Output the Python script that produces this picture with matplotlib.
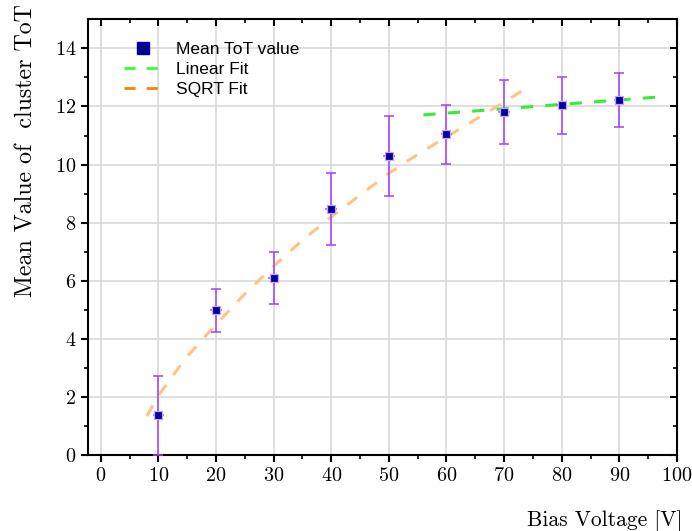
import numpy as np
import matplotlib
matplotlib.use('Agg')
import matplotlib.pyplot as plt
from matplotlib.lines import Line2D

bias = [10, 20, 30, 40, 50, 60, 70, 80, 90]
mean_tot = [1.39, 4.99, 6.11, 8.48, 10.31, 11.05, 11.81, 12.05, 12.24]
err_low = [1.39, 0.75, 0.89, 1.25, 1.38, 1.04, 1.11, 1.0, 0.96]
err_high = [1.34, 0.74, 0.89, 1.23, 1.36, 0.99, 1.09, 0.95, 0.9]
bias_err = [1, 1, 1, 1, 1, 1, 1, 1, 1]

# fit curves
lin_x = [56, 97]
lin_y = [11.71, 12.33]
sqrt_x = [8, 10, 12, 15, 20, 25, 30, 35, 40, 45, 50, 55, 60, 65, 70, 74]
sqrt_y = [1.35, 2.05, 2.6, 3.4, 4.5, 5.55, 6.5, 7.4, 8.2, 8.95, 9.7, 10.35, 10.95, 11.55, 12.15, 12.65]

plt.rcParams['font.family'] = 'cmr10'
plt.rcParams['axes.formatter.use_mathtext'] = True

fig = plt.figure(figsize=(6.92, 5.31), dpi=100)
ax = fig.add_axes([0.1272, 0.1426, 0.9783 - 0.1272, 0.9637 - 0.1426])

ax.grid(True, color='#d6d6d6', linewidth=1.1, zorder=0)
ax.set_axisbelow(True)

ax.plot(sqrt_x, sqrt_y, color='#ffc384', linewidth=2.2, dashes=(4, 4), zorder=2)
ax.plot(lin_x, lin_y, color='#33ee33', linewidth=2.2, dashes=(4, 4), zorder=2)

ax.errorbar(bias, mean_tot, yerr=[err_low, err_high], fmt='none',
            ecolor='#a040ff', elinewidth=1.1, capsize=3.5, capthick=1.1, zorder=3)
ax.errorbar(bias, mean_tot, xerr=bias_err, fmt='none',
            ecolor='#b070ff', elinewidth=1.3, capsize=0, zorder=3)
ax.plot(bias, mean_tot, 's', color='#000099', markersize=6,
        markeredgecolor='#c8a0ff', markeredgewidth=0.9, zorder=4)

ax.set_xlim(-2.2, 100)
ax.set_ylim(0, 15)
ax.set_xticks(np.arange(0, 101, 10))
ax.set_xticks(np.arange(0, 101, 5), minor=True)
ax.set_yticks(np.arange(0, 15, 2))
ax.set_yticks(np.arange(0, 15, 1), minor=True)

for s in ax.spines.values():
    s.set_linewidth(1.5)

ax.tick_params(which='major', direction='out', length=5, width=1.5, labelsize=14.5)
ax.tick_params(which='minor', direction='out', length=3, width=1.2)
ax.tick_params(which='both', top=True, right=True)
# top/right ticks point inwards
for t in ax.xaxis.get_major_ticks() + ax.xaxis.get_minor_ticks():
    t.tick2line.set_marker(matplotlib.lines.TICKDOWN)
for t in ax.yaxis.get_major_ticks() + ax.yaxis.get_minor_ticks():
    t.tick2line.set_marker(matplotlib.lines.TICKLEFT)

ax.set_xlabel('Bias Voltage [V]', fontsize=15.5, loc='right')
ax.set_ylabel('Mean Value of  cluster ToT', fontsize=17.2, loc='top')
ax.xaxis.set_label_coords(1.01, -0.125)
ax.yaxis.set_label_coords(-0.085, 1.035)

handles = [
    Line2D([], [], marker='s', color='#000099', linestyle='none', markersize=9),
    Line2D([], [], color='#33ff33', linewidth=2, dashes=(4, 4)),
    Line2D([], [], color='#ff8000', linewidth=2, dashes=(4, 4)),
]
ax.legend(handles, ['Mean ToT value', 'Linear Fit', 'SQRT Fit'], loc='upper left',
          bbox_to_anchor=(0.035, 0.985), frameon=False, handlelength=2.2,
          labelspacing=0.3, prop={'family': 'Liberation Sans', 'size': 12.5})

fig.savefig('out.png', dpi=100)
